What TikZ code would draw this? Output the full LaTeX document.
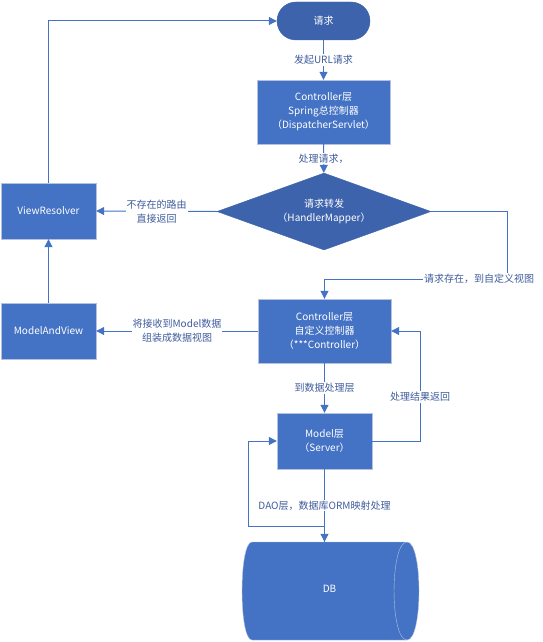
\documentclass[tikz,border=0pt]{standalone}
\usepackage{fontspec}
\setmainfont{Noto Sans CJK SC}
\usepackage{tikz}
\usetikzlibrary{shapes.geometric,arrows.meta}
\definecolor{boxblue}{HTML}{4472C4}
\definecolor{darkblue}{HTML}{3D63AC}
\definecolor{edgegray}{HTML}{B4C2DD}
\definecolor{lblblue}{HTML}{3F5C9C}

\begin{document}
\begin{tikzpicture}[x=1pt,y=-1pt,
            font=\fontsize{10}{14}\selectfont,
            box/.style={shape=rectangle, fill=boxblue, draw=edgegray, text=white, align=center, minimum width=133pt, minimum height=64pt},
            smallbox/.style={box, minimum width=95pt, minimum height=56pt},
            terminal/.style={shape=rectangle, rounded corners=18.9pt, fill=darkblue, draw=darkblue, text=white, minimum width=93pt, minimum height=38pt},
            decision/.style={shape=diamond, aspect=2.78, inner sep=0pt, fill=darkblue, draw=darkblue, text=white, align=center, minimum width=214pt, minimum height=77pt},
            dbbody/.style={shape=rectangle, text=white, minimum width=155pt, minimum height=98pt},
            line/.style={draw=boxblue, line width=1pt, -{Triangle[length=8pt,width=8pt]}},
            lbl/.style={fill=white, text=lblblue, align=center, inner sep=1pt}]
				\useasboundingbox (0,0) rectangle (543,642);

				% database drum, lying on its side
				\coordinate (dbc) at (329.5,591);
				\path[fill=boxblue, draw=edgegray] ([shift={(-77.5pt,-49pt)}]dbc) coordinate (nw)
					.. controls ([xshift=-13.3pt]nw) and ([shift={(-90.8pt,49pt)}]dbc) .. ([shift={(-77.5pt,49pt)}]dbc) coordinate (sw)
					-- ([shift={(77.5pt,49pt)}]dbc) coordinate (se)
					.. controls ([xshift=16pt]se) and ([shift={(93.5pt,-49pt)}]dbc) .. ([shift={(77.5pt,-49pt)}]dbc) coordinate (ne)
					-- cycle;
				\draw[edgegray] (ne) .. controls ([xshift=-17.3pt]ne) and ([xshift=-17.3pt]se) .. (se);

				% shapes
				\node[terminal] (req) at (323.5,21) {请求};
				\node[box] (dsp) at (323.5,112) {Controller层\\Spring总控制器\\（DispatcherServlet）};
				\node[decision] (hmap) at (324,211.5) {请求转发\\（HandlerMapper）};
				\node[smallbox] (vres) at (48.5,211) {ViewResolver};
				\node[smallbox] (mav) at (48.5,331) {ModelAndView};
				\node[box] (ctrl) at (324.5,331) {Controller层\\自定义控制器\\（***Controller）};
				\node[smallbox] (model) at (324.5,441) {Model层\\（Server）};
				\node[dbbody] (db) at (dbc) {\raisebox{5pt}{DB}};

				\coordinate (turn) at (507,279);
				\coordinate (dbtop) at (model.south |- db.north);

				% connectors
				\draw[line] (req) -- node[lbl] (l1) {发起URL请求} (dsp);
				\draw[line] (dsp) -- node[lbl] (l2) {处理请求，} (hmap);
				\draw[line] (hmap.west) -- node[lbl] (l3) {不存在的路由\\直接返回} (vres.east);
				\draw[line] (hmap.east) -| (turn) -| (ctrl.north);
				\node[lbl] (l4) at (479,279) {请求存在，到自定义视图};
				\draw[line] (ctrl.west) -- node[lbl] (l5) {将接收到Model数据\\组装成数据视图} (mav.east);
				\draw[line] (mav) -- (vres);
				\draw[line] (vres.north) |- (req.west);
				\draw[line] (ctrl) -- node[lbl] (l6) {到数据处理层} (model);
				\draw[line] (model.east) -- ++(48,0) coordinate (back) -- node[lbl,pos=0.4] (l7) {处理结果返回} (back |- ctrl.east) -- (ctrl.east);
				\draw[line] (model.south) -- node[lbl] (l8) {DAO层，数据库ORM映射处理} (dbtop);
				\draw[line] (dbtop) -- ++(0,-15) -| ([xshift=-28pt]model.west) -- (model.west);
\end{tikzpicture}
\end{document}
